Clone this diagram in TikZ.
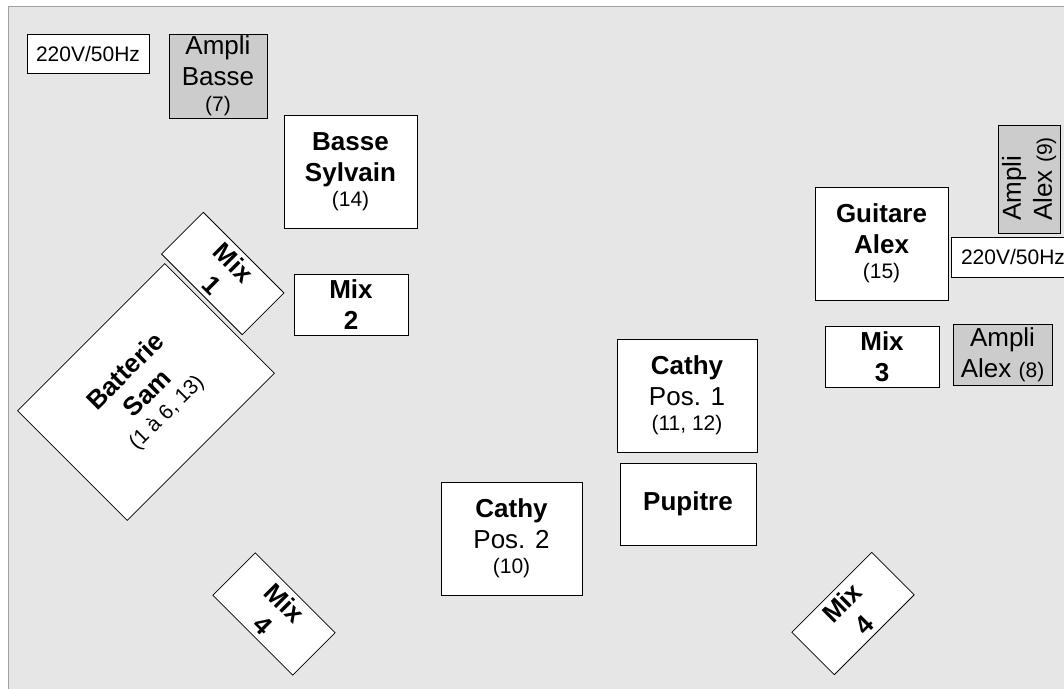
\documentclass[tikz,border=0pt]{standalone}
\usepackage{fontspec}
\setmainfont{Liberation Sans}
\definecolor{bg}{RGB}{230,230,230}
\definecolor{ampfill}{RGB}{204,204,204}
\definecolor{framecol}{RGB}{160,160,160}
\newcommand\smf{\fontsize{21}{25}\selectfont}
\tikzset{
  box/.style={draw=black, line width=0.8pt, fill=white, rectangle, inner sep=0pt,
    align=center, font=\fontsize{26}{31}\selectfont},
  ampbox/.style={box, fill=ampfill},
  pwrbox/.style={box, font=\smf}
}
\begin{document}
\begin{tikzpicture}[x=1pt,y=-1pt]
\useasboundingbox (0,0) rectangle (1064,688);
\clip (0,0) rectangle (1064,688);
\fill[bg] (8,6) rectangle (1080,700);
\draw[framecol, line width=1pt] (8,700) -- (8,6) -- (1080,6);

\node[pwrbox, minimum width=122, minimum height=39] (pwrL) at (88,53.5) {220V/50Hz};
\node[ampbox, minimum width=98, minimum height=84] (ampB) at (218,76) {Ampli\\Basse\\[-5pt]{\smf (7)}};
\node[box, minimum width=133, minimum height=113] (basse) at (350.5,171.5) {\textbf{Basse}\\\textbf{Sylvain}\\[-6pt]{\smf (14)}};
\node[box, minimum width=114, minimum height=59, rotate=-45] (mix1) at (222.75,273.5) {\textbf{Mix}\\\textbf{1}};
\node[box, minimum width=114, minimum height=61] (mix2) at (351,304.5) {\textbf{Mix}\\\textbf{2}};
\node[box, minimum width=208, minimum height=155, rotate=45] (bat) at (146,392) {\textbf{Batterie}\\\textbf{Sam}\\[-6pt]{\smf (1 à 6, 13)}};
\node[box, minimum width=113, minimum height=60, rotate=-45] (mix4l) at (274,614) {\textbf{Mix}\\\textbf{4}};
\node[box, minimum width=141, minimum height=113] (cathy2) at (511.5,538.5) {\textbf{Cathy}\\Pos. 2\\[-6pt]{\smf (10)}};
\node[box, minimum width=140, minimum height=113] (cathy1) at (687,395.5) {\textbf{Cathy}\\Pos. 1\\[-6pt]{\smf (11, 12)}};
\node[box, minimum width=136, minimum height=82] (pupitre) at (688,504) {\textbf{Pupitre}};
\node[box, minimum width=113, minimum height=60, rotate=45] (mix4r) at (853,613.5) {\textbf{Mix}\\\textbf{4}};
\node[box, minimum width=133, minimum height=113] (guitare) at (881.5,243.5) {\textbf{Guitare}\\\textbf{Alex}\\[-6pt]{\smf (15)}};
\node[box, minimum width=114, minimum height=61] (mix3) at (882,356.5) {\textbf{Mix}\\\textbf{3}};
\node[ampbox, minimum width=99, minimum height=61] (ampA8) at (1002.5,354.5) {Ampli\\Alex {\smf (8)}};
\node[ampbox, minimum width=108, minimum height=62, rotate=90, align=left] (ampA9) at (1029,179) {Ampli\\Alex {\smf (9)}};
\node[pwrbox, minimum width=124, minimum height=40] (pwrR) at (1013,257) {220V/50Hz};
\end{tikzpicture}
\end{document}
